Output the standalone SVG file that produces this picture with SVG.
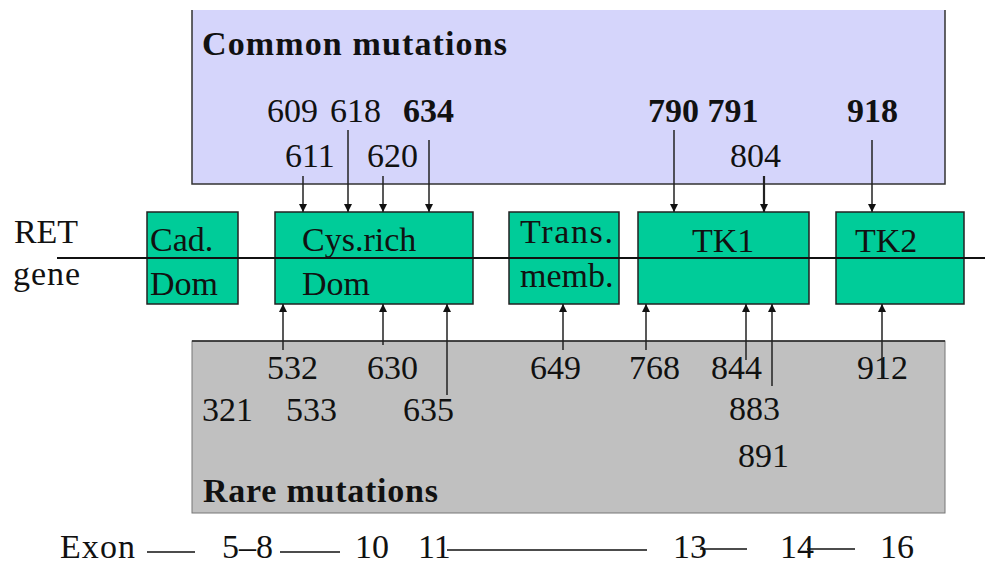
<svg xmlns="http://www.w3.org/2000/svg" width="985" height="567" viewBox="0 0 985 567">
<style>
text{font-family:"Liberation Serif","Times New Roman",serif;font-size:34px;fill:#111}
.b{font-weight:bold}
.dom{fill:#00CC99;stroke:#222;stroke-width:1.5}
.ar{stroke:#222;stroke-width:1.5;fill:none}
.ex{stroke:#111;stroke-width:1.5}
</style>
<defs>
<marker id="ah" viewBox="0 0 10 10" refX="10" refY="5" markerWidth="8" markerHeight="8" markerUnits="userSpaceOnUse" orient="auto">
<path d="M0,0 L10,5 L0,10 z" fill="#111"/>
</marker>
</defs>
<rect width="985" height="567" fill="#fff"/>
<g id="common">
<rect x="192" y="10" width="753" height="174" fill="#D5D5FB"/>
<path d="M192,10 V184 H945 V10" fill="none" stroke="#333" stroke-width="1.5"/>
<text class="b" x="202" y="55" textLength="305">Common mutations</text>
</g>
<g id="rare">
<rect x="192" y="341" width="753" height="172" fill="#C0C0C0" stroke="#777" stroke-width="1"/>
<line x1="192" y1="341" x2="945" y2="341" stroke="#222" stroke-width="1.5"/>
<text class="b" x="203" y="502" textLength="235">Rare mutations</text>
</g>
<g id="labels-top">
<text x="267" y="122">609</text>
<text x="330" y="122">618</text>
<text class="b" x="403" y="122">634</text>
<text x="285" y="167">611</text>
<text x="367" y="167">620</text>
<text class="b" x="648" y="122">790 791</text>
<text class="b" x="847" y="122">918</text>
<text x="730" y="167">804</text>
</g>
<g id="labels-bottom">
<text x="267" y="379">532</text>
<text x="367" y="379">630</text>
<text x="530" y="379">649</text>
<text x="629" y="379">768</text>
<text x="711" y="379">844</text>
<text x="857" y="379">912</text>
<text x="202" y="421">321</text>
<text x="286" y="421">533</text>
<text x="403" y="421">635</text>
<text x="729" y="420">883</text>
<text x="738" y="467">891</text>
</g>
<g id="ret">
<text x="14" y="243" textLength="64">RET</text>
<text x="13" y="285" textLength="67">gene</text>
</g>
<g id="cad">
<rect class="dom" x="147" y="212" width="91" height="92"/>
<text x="150" y="251">Cad.</text>
<text x="150" y="295">Dom</text>
</g>
<g id="cys">
<rect class="dom" x="275" y="212" width="198" height="92"/>
<text x="302" y="251">Cys.rich</text>
<text x="302" y="295">Dom</text>
</g>
<g id="trans">
<rect class="dom" x="509" y="212" width="110" height="92"/>
<text x="520" y="243" textLength="93">Trans.</text>
<text x="520" y="287">memb.</text>
</g>
<g id="tk1">
<rect class="dom" x="638" y="212" width="171" height="92"/>
<text x="692" y="252">TK1</text>
</g>
<g id="tk2">
<rect class="dom" x="836" y="212" width="128" height="92"/>
<text x="855" y="252">TK2</text>
</g>
<g id="connectors">
<line x1="57" y1="258" x2="985" y2="258" stroke="#111" stroke-width="1.8"/>
<g class="ar" marker-end="url(#ah)">
<line x1="303" y1="176" x2="303" y2="212"/>
<line x1="348" y1="130" x2="348" y2="212"/>
<line x1="383" y1="176" x2="383" y2="212"/>
<line x1="429" y1="140" x2="429" y2="212"/>
<line x1="674" y1="130" x2="674" y2="212"/>
<line x1="764" y1="176" x2="764" y2="212" stroke-width="2.2"/>
<line x1="872" y1="140" x2="872" y2="212"/>
<line x1="283" y1="350" x2="283" y2="304"/>
<line x1="383" y1="345" x2="383" y2="304"/>
<line x1="447" y1="395" x2="447" y2="304"/>
<line x1="563" y1="350" x2="563" y2="304"/>
<line x1="646" y1="350" x2="646" y2="304"/>
<line x1="746" y1="360" x2="746" y2="304"/>
<line x1="772" y1="386" x2="772" y2="304"/>
<line x1="882" y1="378" x2="882" y2="304"/>
</g>
</g>
<g id="exon">
<text x="60" y="558" textLength="75">Exon</text>
<line class="ex" x1="147" y1="552" x2="195" y2="552"/>
<text x="222" y="558">5–8</text>
<line class="ex" x1="280" y1="552" x2="340" y2="552"/>
<text x="355" y="558">10</text>
<text x="418" y="558">11</text>
<line class="ex" x1="447" y1="550" x2="647" y2="550"/>
<text x="673" y="558">13</text>
<line class="ex" x1="700" y1="549" x2="747" y2="549"/>
<text x="780" y="558">14</text>
<line class="ex" x1="807" y1="549" x2="855" y2="549"/>
<text x="880" y="558">16</text>
</g>
</svg>
